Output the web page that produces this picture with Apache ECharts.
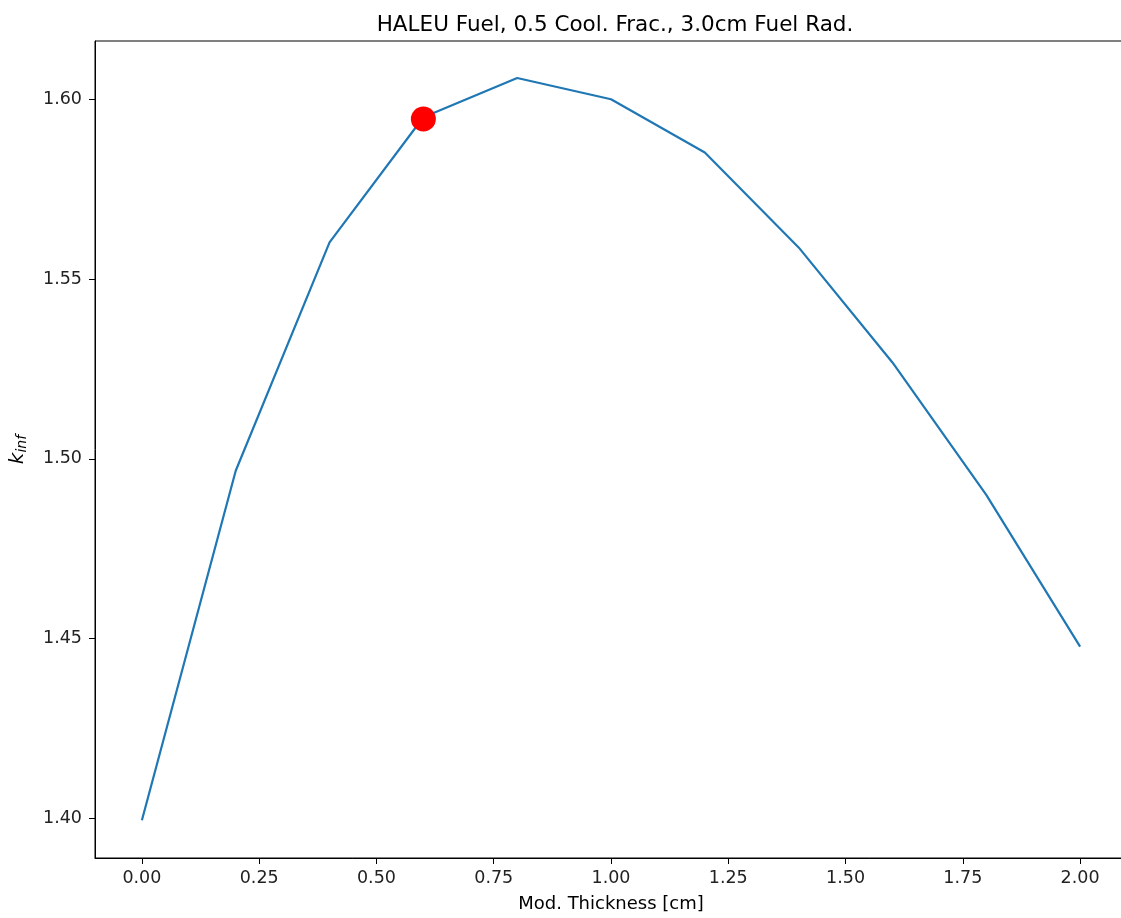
<!DOCTYPE html>
<html>
<head>
<meta charset="utf-8">
<script src="https://cdn.jsdelivr.net/npm/echarts@6/dist/echarts.min.js"></script>
<style>
  html, body { margin: 0; padding: 0; background: #fff; overflow: hidden; }
  #wrap { width: 1121px; height: 918px; overflow: hidden; }
  #chart { width: 1127px; height: 918px; }
</style>
</head>
<body>
<div id="wrap"><div id="chart"></div></div>
<script>
// 慢化剂厚度与 k_inf 数据
const modThickness = [0.0, 0.2, 0.4, 0.6, 0.8, 1.0, 1.2, 1.4, 1.6, 1.8, 2.0];
const kInf = [1.3995, 1.4967, 1.5602, 1.5950, 1.6059, 1.6000, 1.5852, 1.5588, 1.5268, 1.4900, 1.4478];
// 标记点
const markedPoint = [0.6, 1.5945];
// 刻度
const xTicks = [0, 0.25, 0.5, 0.75, 1.0, 1.25, 1.5, 1.75, 2.0];
const yTicks = [1.40, 1.45, 1.50, 1.55, 1.60];

const chart = echarts.init(document.getElementById('chart'));
const font = 'DejaVu Sans';

chart.setOption({
  animation: false,
  title: {
    text: 'HALEU Fuel, 0.5 Cool. Frac., 3.0cm Fuel Rad.',
    left: 610,
    textAlign: 'center',
    top: 9,
    textStyle: { fontFamily: font, fontSize: 21.5, fontWeight: 'normal', color: '#000' }
  },
  grid: {
    left: 94,
    right: 0,
    top: 41,
    bottom: 57,
    show: true,
    borderColor: '#000',
    borderWidth: 1
  },
  xAxis: {
    type: 'value',
    min: -0.1,
    max: 2.1,
    name: 'Mod. Thickness [cm]',
    nameLocation: 'middle',
    nameGap: 37,
    nameTextStyle: { fontFamily: font, fontSize: 18, color: '#000' },
    splitLine: { show: false },
    axisLine: { onZero: false, lineStyle: { color: '#000', width: 1 } },
    axisTick: { customValues: xTicks, length: 6, lineStyle: { color: '#000' } },
    axisLabel: {
      customValues: xTicks,
      fontFamily: font, fontSize: 17.5, color: '#222', margin: 11,
      formatter: v => v.toFixed(2)
    }
  },
  yAxis: {
    type: 'value',
    min: 1.389,
    max: 1.6162,
    name: '{k|k}{s|inf}',
    nameLocation: 'middle',
    nameGap: 66,
    nameTextStyle: {
      fontFamily: font, color: '#000',
      rich: {
        k: { fontFamily: font, fontSize: 20, fontStyle: 'italic', color: '#000' },
        s: { fontFamily: font, fontSize: 14, fontStyle: 'italic', color: '#000', verticalAlign: 'bottom', padding: [8, 0, 0, 0] }
      }
    },
    splitLine: { show: false },
    axisLine: { onZero: false, lineStyle: { color: '#000', width: 1 } },
    axisTick: { customValues: yTicks, length: 6, lineStyle: { color: '#000' } },
    axisLabel: {
      customValues: yTicks,
      fontFamily: font, fontSize: 17.5, color: '#222', margin: 13,
      formatter: v => v.toFixed(2)
    }
  },
  series: [
    {
      type: 'line',
      data: modThickness.map((x, i) => [x, kInf[i]]),
      symbol: 'none',
      lineStyle: { color: '#1f77b4', width: 2.2 },
      z: 2
    },
    {
      type: 'scatter',
      data: [markedPoint],
      symbolSize: 25,
      itemStyle: { color: '#ff0000', opacity: 1 },
      z: 3
    }
  ]
});
</script>
</body>
</html>
